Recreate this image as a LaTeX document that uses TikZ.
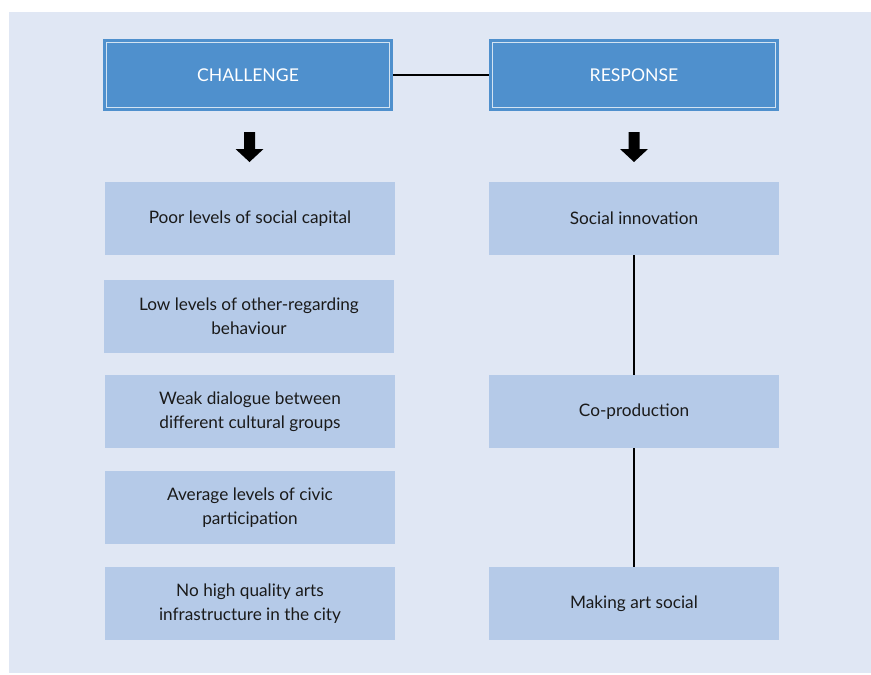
\documentclass[tikz,border=0pt]{standalone}
\usepackage{fontspec}
\setmainfont{Lato}
\definecolor{bgc}{HTML}{E0E7F4}
\definecolor{hdr}{HTML}{4F90CD}
\definecolor{boxc}{HTML}{B5CAE8}
\definecolor{txt}{HTML}{1A1A1A}
\begin{document}
\begin{tikzpicture}[x=1pt,y=-1pt,
  hbox/.style={fill=hdr, minimum width=290pt, minimum height=72pt, inner sep=0pt,
    text=white, font=\fontsize{17.6}{24}\selectfont, align=center},
  ibox/.style={fill=boxc, minimum width=290pt, minimum height=73pt, inner sep=0pt,
    text=txt, font=\fontsize{17.2}{24}\selectfont, align=center},
  link/.style={line width=1.8pt, black},
  frameline/.style={draw=white!75!hdr, line width=1pt},
  downarrow/.pic={\fill[black] (-5.5,-15) -- (5.5,-15) -- (5.5,2) -- (14,2) -- (0,15) -- (-14,2) -- (-5.5,2) -- cycle;}
]
\useasboundingbox (0,0) rectangle (871,675);
\fill[bgc] (9,12) rectangle (871,673);

\node[hbox] (ch) at (248,75) {CHALLENGE};
\node[hbox] (rs) at (634,75) {RESPONSE};
\draw[frameline] ([shift={(4,4)}]ch.north west) rectangle ([shift={(-4,-4)}]ch.south east);
\draw[frameline] ([shift={(4,4)}]rs.north west) rectangle ([shift={(-4,-4)}]rs.south east);
\draw[link] (ch.east) -- (rs.west);

\pic at (249.5,147) {downarrow};
\pic at (634,147) {downarrow};

\node[ibox] (c1) at (250,218.5) {Poor levels of social capital};
\node[ibox] (c2) at (249,316.5) {Low levels of other-regarding\\behaviour};
\node[ibox] (c3) at (250,411.5) {Weak dialogue between\\different cultural groups};
\node[ibox] (c4) at (250,507.5) {Average levels of civic\\participation};
\node[ibox] (c5) at (250,603.5) {No high quality arts\\infrastructure in the city};

\node[ibox] (r1) at (634,218.5) {Social innovation};
\node[ibox] (r2) at (634,411.5) {Co-production};
\node[ibox] (r3) at (634,603.5) {Making art social};

\draw[link] (r1.south) -- (r2.north);
\draw[link] (r2.south) -- (r3.north);
\end{tikzpicture}
\end{document}
